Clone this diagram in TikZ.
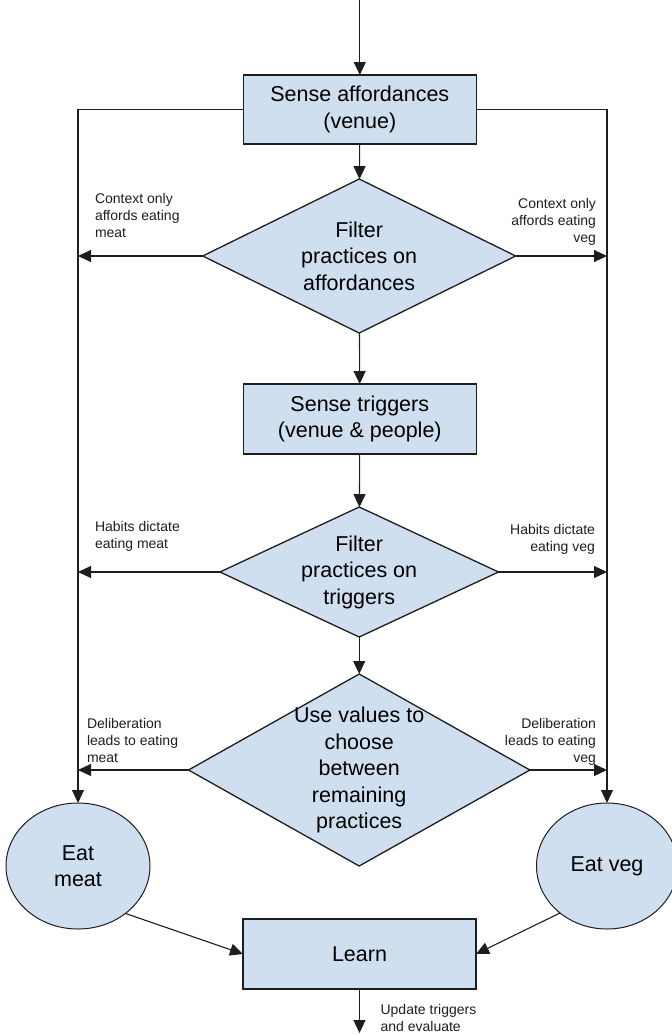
\documentclass[tikz,border=0pt]{standalone}
\usepackage{fontspec}
\setmainfont{Liberation Sans}
\usetikzlibrary{shapes.geometric,arrows.meta}
\definecolor{boxfill}{RGB}{207,223,239}
\definecolor{ink}{RGB}{30,30,30}
\newcommand{\mainsz}{\fontsize{21.5}{26.5}\selectfont}
\newcommand{\notesz}{\fontsize{14}{17}\selectfont}
\begin{document}
\begin{tikzpicture}[x=1pt,y=-1pt,
  every node/.style={inner sep=0pt, outer sep=0pt},
  procbox/.style={draw=ink, line width=1.3pt, fill=boxfill, minimum width=233pt, minimum height=69pt, align=center, font=\mainsz},
  decision/.style={diamond, draw=ink, line width=1.3pt, fill=boxfill},
  dtext/.style={align=center, font=\mainsz},
  outcome/.style={ellipse, draw=ink, line width=1pt, fill=boxfill, align=center, font=\mainsz},
  flow/.style={draw=ink, line width=1.1pt, -{Triangle[length=13pt,width=12pt]}},
  note/.style={font=\notesz, align=left, text=ink},
]
\useasboundingbox (0,0) rectangle (672,1034);

% nodes
\node[procbox] (sense) at (359.8,109.5) {Sense affordances\\(venue)};
\node[decision, minimum width=313pt, minimum height=154pt,
      label={[dtext]center:{Filter\\practices on\\affordances}}] (fa) at (359.2,256) {};
\node[procbox, minimum height=70pt] (trig) at (359.8,419) {Sense triggers\\(venue \& people)};
\node[decision, minimum width=278.5pt, minimum height=130pt,
      label={[dtext]center:{Filter\\practices on\\triggers}}] (ft) at (359.2,572) {};
\node[decision, minimum width=341.4pt, minimum height=192pt,
      label={[dtext]center:{Use values to\\choose\\between\\remaining\\practices}}] (uv) at (359.2,770) {};
\node[outcome, minimum width=144pt, minimum height=126pt] (meat) at (78,866) {Eat\\meat};
\node[outcome, minimum width=141pt, minimum height=126pt] (veg) at (607,866) {Eat veg};
\node[procbox, minimum height=70pt] (learn) at (359.5,954) {Learn};
\coordinate (start) at (359.8,0);
\coordinate (finish) at (359.5,1033);

% connectors
\draw[flow] (start) -- (sense);
\draw[flow] (sense) -- (fa);
\draw[flow] (fa) -- (trig);
\draw[flow] (trig) -- (ft);
\draw[flow] (ft) -- (uv);
\draw[flow] (sense.west) -| (meat.north);
\draw[flow] (sense.east) -| (veg.north);
\draw[flow] (fa.west) -- (fa.west -| meat.north);
\draw[flow] (fa.east) -- (fa.east -| veg.north);
\draw[flow] (ft.west) -- (ft.west -| meat.north);
\draw[flow] (ft.east) -- (ft.east -| veg.north);
\draw[flow] (uv.west) -- (uv.west -| meat.north);
\draw[flow] (uv.east) -- (uv.east -| veg.north);
\draw[flow] (meat.-45) -- (learn.west);
\draw[flow] (veg.-135) -- (learn.east);
\draw[flow] (learn) -- (finish);

% labels
\node[note, anchor=north west] (n1l) at (95,193) {Context only\\affords eating\\meat};
\node[note, anchor=north east, align=right] (n1r) at (596,198) {Context only\\affords eating\\veg};
\node[note, anchor=north west] (n2l) at (95,521) {Habits dictate\\eating meat};
\node[note, anchor=north east, align=right] (n2r) at (595,524) {Habits dictate\\eating veg};
\node[note, anchor=north west] (n3l) at (87,718) {Deliberation\\leads to eating\\meat};
\node[note, anchor=north east, align=right] (n3r) at (596,718) {Deliberation\\leads to eating\\veg};
\node[note, anchor=north west] (n4) at (380.6,1004) {Update triggers\\and evaluate};
\end{tikzpicture}
\end{document}
